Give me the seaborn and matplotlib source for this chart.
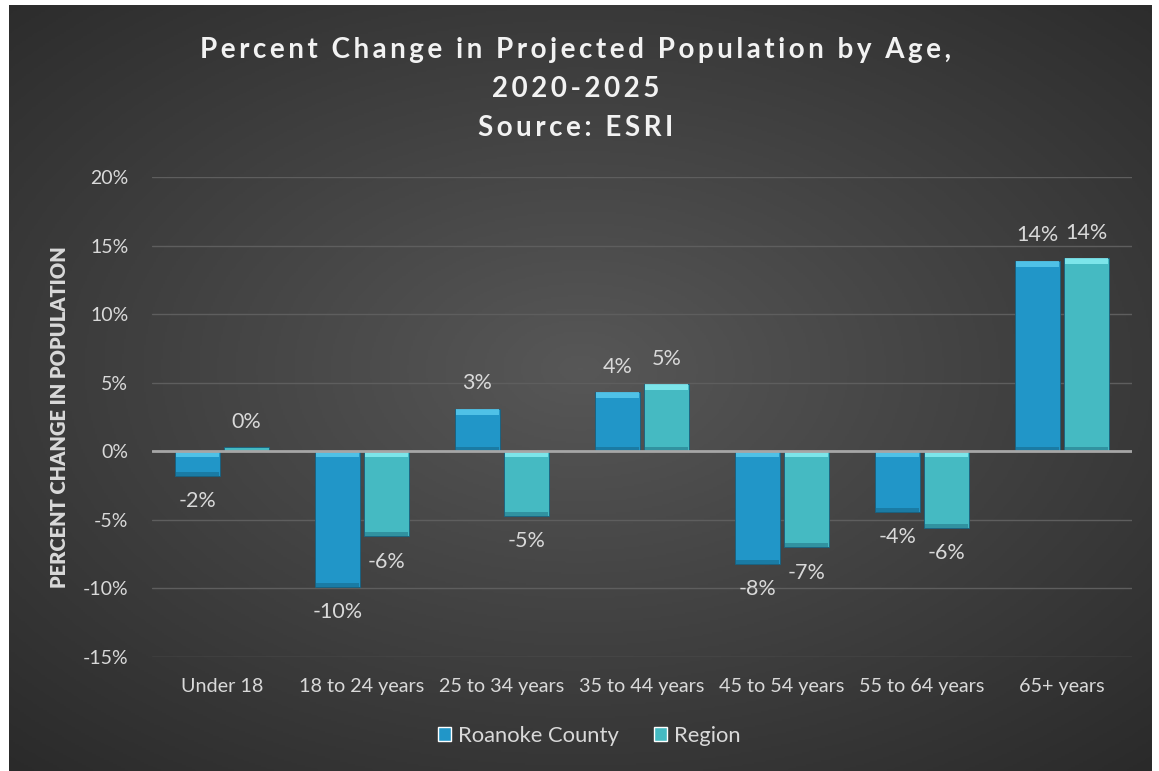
import numpy as np
import pandas as pd
import matplotlib.pyplot as plt
import seaborn as sns

# Dados (variação percentual 2020-2025)
categorias = ["Under 18", "18 to 24 years", "25 to 34 years", "35 to 44 years",
              "45 to 54 years", "55 to 64 years", "65+ years"]
roanoke = [-1.8, -9.9, 3.1, 4.3, -8.2, -4.4, 13.9]
regiao = [0.3, -6.2, -4.7, 4.9, -7.0, -5.6, 14.1]
series = ["Roanoke County", "Region"]
cores = ["#2196C8", "#45BAC2"]
cores_claras = ["#5BCDF0", "#8AF0F5"]
yticks = [-15, -10, -5, 0, 5, 10, 15, 20]
titulo = ["Percent Change in Projected Population by Age,", "2020-2025", "Source: ESRI"]

sns.set_theme(style="dark")
plt.rcParams["font.family"] = ["Lato", "DejaVu Sans"]
texto = "#D9D9D9"

df = pd.DataFrame({
    "Categoria": categorias * 2,
    "Serie": [series[0]] * len(categorias) + [series[1]] * len(categorias),
    "Valor": roanoke + regiao,
})

fig = plt.figure(figsize=(11.59, 7.71), dpi=100, facecolor="white")

# fundo com gradiente radial escuro
bg = fig.add_axes([9 / 1159, 0, 1 - 16 / 1159, 1 - 5 / 771], zorder=-10)
yy, xx = np.mgrid[-1:1:400j, -1:1:600j]
r = np.sqrt((xx * 0.85) ** 2 + ((yy + 0.05) * 0.9) ** 2)
bg.imshow(r, cmap=sns.dark_palette("#575757", as_cmap=True, reverse=True),
          vmin=0, vmax=1.4, aspect="auto", extent=[0, 1, 0, 1])
bg.axis("off")

ax = fig.add_axes([152 / 1159, 1 - 657 / 771, 980 / 1159, 480 / 771])
ax.set_facecolor("none")
sns.barplot(data=df, x="Categoria", y="Valor", hue="Serie", order=categorias,
            hue_order=series, palette=cores, width=0.7, gap=0.09,
            saturation=1, ax=ax, legend=True, zorder=3)

# efeito bisel: faixa clara no topo e escura na base de cada barra
for cont, cor, clara in zip(ax.containers, cores, cores_claras):
    for p in cont:
        p.set_edgecolor("#16607F")
        p.set_linewidth(0.6)
        h = p.get_height()
        x0, w = p.get_x(), p.get_width()
        topo, base = max(h, 0), min(h, 0)
        if abs(h) > 0.6:
            ax.bar(x0 + w / 2, -0.45, width=w * 0.96, bottom=topo, color=clara,
                   alpha=0.8, zorder=4, linewidth=0)
            ax.bar(x0 + w / 2, 0.3, width=w * 0.96, bottom=base, color="#0E4A63",
                   alpha=0.35, zorder=4, linewidth=0)
    ax.bar_label(cont, labels=[f"{v:.0f}%" for v in cont.datavalues],
                 padding=11, color=texto, fontsize=15.5)

ax.set_ylim(-15, 20)
ax.set_xlim(-0.5, len(categorias) - 0.5)
ax.set_yticks(yticks)
ax.set_yticklabels([f"{t}%" for t in yticks], color=texto, fontsize=14)
ax.tick_params(axis="x", colors=texto, labelsize=14.2, length=0, pad=15)
ax.tick_params(axis="y", length=0, pad=17)
ax.grid(axis="y", color="#5E5E5E", linewidth=1, zorder=0)
ax.axhline(0, color="#A6A6A6", linewidth=2, zorder=5)
for s in ax.spines.values():
    s.set_visible(False)
ax.set_xlabel("")
ax.set_ylabel("PERCENT CHANGE IN POPULATION", color=texto, fontsize=14.5,
              fontweight="heavy", labelpad=10)

# título com espaçamento entre letras
for i, linha in enumerate(titulo):
    espacado = "\u2009".join(linha)
    fig.text(0.497, 1 - (50 + 39 * i) / 771, espacado, ha="center", va="center",
             color="#F2F2F2", fontsize=20, fontweight="bold")

leg = ax.legend(loc="center", bbox_to_anchor=(0.446, -0.165), ncol=2,
                frameon=False, fontsize=15.8, handlelength=0.6, handleheight=0.6,
                columnspacing=1.6, handletextpad=0.3)
for t in leg.get_texts():
    t.set_color(texto)

fig.savefig("out.png", dpi=100, facecolor="white")
